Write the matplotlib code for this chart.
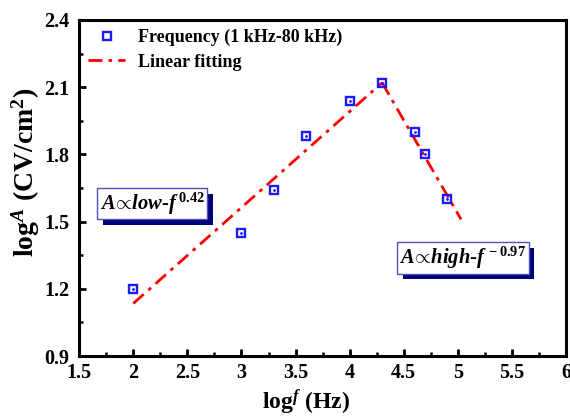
import matplotlib
matplotlib.use("Agg")
import matplotlib.pyplot as plt
import matplotlib.patheffects as pe
from matplotlib.legend_handler import HandlerLine2D

# measured points: log f vs log A
log_f = [2.0, 3.0, 3.3, 3.6, 4.0, 4.3, 4.6, 4.7, 4.9]
log_a = [1.20, 1.45, 1.64, 1.88, 2.04, 2.12, 1.90, 1.80, 1.60]

# fitted line segments (low and high frequency regions)
fit_low_x = [2.0, 4.3]
fit_low_y = [1.135, 2.12]
fit_high_x = [4.3, 5.03]
fit_high_y = [2.12, 1.51]

x_ticks = [1.5, 2, 2.5, 3, 3.5, 4, 4.5, 5, 5.5, 6]
x_tick_labels = ["1.5", "2", "2.5", "3", "3.5", "4", "4.5", "5", "5.5", "6"]
y_ticks = [0.9, 1.2, 1.5, 1.8, 2.1, 2.4]
y_tick_labels = ["0.9", "1.2", "1.5", "1.8", "2.1", "2.4"]

plt.rcParams["font.family"] = ["Liberation Serif", "DejaVu Serif"]
plt.rcParams["font.weight"] = "bold"
plt.rcParams["mathtext.fontset"] = "custom"
plt.rcParams["mathtext.rm"] = "Liberation Serif:bold"
plt.rcParams["mathtext.it"] = "Liberation Serif:italic:bold"
plt.rcParams["mathtext.bf"] = "Liberation Serif:bold"


class OffsetMarkerHandler(HandlerLine2D):
    """Legend handler that draws the single marker right of the handle centre."""

    def create_artists(self, legend, orig_handle, xdescent, ydescent,
                       width, height, fontsize, trans):
        artists = super().create_artists(legend, orig_handle, xdescent, ydescent,
                                         width, height, fontsize, trans)
        for a in artists:
            xd = a.get_xdata()
            if len(xd) == 1:
                a.set_xdata([xd[0] + 0.23 * width])
        return artists


fig = plt.figure(figsize=(5.7, 4.16), dpi=100)
ax = fig.add_axes([0.139, 0.144, 0.854, 0.808])

blue = "#1a1aff"
pts, = ax.plot(log_f, log_a, linestyle="none", marker="s", markersize=6,
               markerfacecolor="none", markeredgecolor=blue, markeredgewidth=1.7,
               label="Frequency (1 kHz-80 kHz)", zorder=3)
ax.plot(log_f, log_a, linestyle="none", marker=".", markersize=2,
        color=blue, zorder=3)
dashdot = (0, (5, 2.2, 1.3, 2.2))
ax.plot(fit_low_x, fit_low_y, color="red", linestyle=dashdot,
        linewidth=2.0, label="Linear fitting", zorder=2)
ax.plot(fit_high_x, fit_high_y, color="red", linestyle=dashdot,
        linewidth=2.0, zorder=2)

ax.set_xlim(1.5, 6)
ax.set_ylim(0.9, 2.4)
ax.set_xticks(x_ticks)
ax.set_xticklabels(x_tick_labels)
ax.set_yticks(y_ticks)
ax.set_yticklabels(y_tick_labels)
ax.set_xticks([t + 0.25 for t in x_ticks[:-1]], minor=True)
ax.set_yticks([t + 0.15 for t in y_ticks[:-1]], minor=True)
ax.tick_params(which="major", direction="in", length=5, width=2,
               labelsize=14.5)
ax.tick_params(axis="x", which="major", pad=5)
ax.tick_params(axis="y", which="major", pad=7)
ax.tick_params(which="minor", direction="in", length=3, width=1.8)
for lbl in ax.get_xticklabels() + ax.get_yticklabels():
    lbl.set_fontweight("bold")
for sp in ax.spines.values():
    sp.set_linewidth(2.2)

ax.set_xlabel(r"log$^{\mathit{f}}$ (Hz)", fontsize=17, fontweight="bold")
ax.set_ylabel(r"log$^{\mathit{A}}$ (CV/cm$^{2}$)", fontsize=20, fontweight="bold")
ax.xaxis.set_label_coords(0.466, -0.093)
ax.yaxis.set_label_coords(-0.077, 0.548)

leg = ax.legend(loc="upper left", frameon=False, fontsize=13,
                handlelength=2.05, handletextpad=0.7, borderaxespad=0.1,
                labelspacing=0.4, bbox_to_anchor=(0.0, 1.0),
                handler_map={pts: OffsetMarkerHandler()})
for t in leg.get_texts():
    t.set_fontweight("bold")

box_style = dict(boxstyle="square,pad=0.12", facecolor="white",
                 edgecolor="#5050c0", linewidth=1.0)
shadow = [pe.SimplePatchShadow(offset=(4, -4), shadow_rgbFace="#00007a", alpha=1.0),
          pe.Normal()]

t1 = ax.text(1.69, 1.58, r"$\mathit{A}\!\propto\!\mathit{low}$-$\mathit{f}^{\,0.42}$",
             fontsize=14.8, va="center", ha="left", bbox=box_style)
t1.get_bbox_patch().set_path_effects(shadow)
t2 = ax.text(4.46, 1.338, r"$\mathit{A}\!\propto\!\mathit{high}$-$\mathit{f}^{\,-0.97}$",
             fontsize=14.8, va="center", ha="left", bbox=box_style)
t2.get_bbox_patch().set_path_effects(shadow)

fig.savefig("out.png", dpi=100)
